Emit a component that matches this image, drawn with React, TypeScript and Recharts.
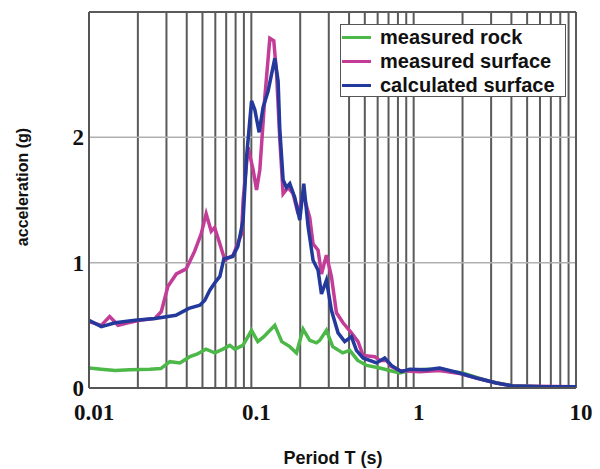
import React from "react";
import { LineChart, Line, XAxis, YAxis, CartesianGrid, ReferenceLine, Legend } from "recharts";

// response spectra, period T (s) vs acceleration (g)
const rockT = [0.01, 0.0119, 0.0145, 0.0179, 0.0237, 0.0277, 0.0315, 0.0363, 0.0418, 0.0462, 0.0525, 0.0596, 0.0668, 0.0737, 0.0791, 0.0887, 0.1003, 0.1096, 0.1194, 0.1395, 0.154, 0.1726, 0.1897, 0.2084, 0.229, 0.2518, 0.2639, 0.2902, 0.3173, 0.3657, 0.4038, 0.4522, 0.5138, 0.6177, 0.7117, 0.82, 0.945, 1.2, 1.5, 2, 2.5, 3, 4, 6, 10];
const rockG = [0.16, 0.15, 0.14, 0.145, 0.15, 0.155, 0.21, 0.2, 0.25, 0.27, 0.31, 0.28, 0.31, 0.34, 0.31, 0.34, 0.46, 0.37, 0.41, 0.5, 0.37, 0.33, 0.28, 0.47, 0.38, 0.36, 0.38, 0.46, 0.33, 0.28, 0.3, 0.22, 0.18, 0.16, 0.14, 0.12, 0.14, 0.15, 0.14, 0.12, 0.08, 0.05, 0.02, 0.01, 0.01];

const surfaceT = [0.01, 0.0119, 0.0134, 0.0151, 0.0174, 0.0206, 0.0255, 0.0279, 0.0306, 0.0345, 0.0397, 0.0447, 0.0491, 0.0527, 0.0566, 0.0594, 0.064, 0.0687, 0.0773, 0.087, 0.089, 0.0955, 0.1026, 0.1077, 0.1128, 0.1211, 0.13, 0.1375, 0.143, 0.1498, 0.157, 0.1685, 0.1808, 0.1941, 0.2084, 0.229, 0.24, 0.2577, 0.2704, 0.2902, 0.3115, 0.3344, 0.3672, 0.4136, 0.4542, 0.4875, 0.5754, 0.6177, 0.6792, 0.73, 0.82, 1.089, 1.445, 1.919, 2.432, 3.228, 4.066, 10];
const surfaceG = [0.53, 0.5, 0.57, 0.5, 0.52, 0.54, 0.555, 0.61, 0.81, 0.91, 0.95, 1.09, 1.23, 1.39, 1.25, 1.28, 1.15, 1.02, 1.06, 1.23, 1.5, 1.92, 1.74, 1.58, 1.74, 2.32, 2.79, 2.77, 2.51, 1.98, 1.55, 1.6, 1.55, 1.39, 1.55, 1.36, 1.15, 1.1, 0.91, 1.06, 0.89, 0.6, 0.52, 0.44, 0.37, 0.26, 0.25, 0.22, 0.22, 0.17, 0.14, 0.13, 0.14, 0.115, 0.08, 0.04, 0.016, 0.01];

const calcT = [0.01, 0.0119, 0.0145, 0.0192, 0.0255, 0.0343, 0.0412, 0.0482, 0.0517, 0.0555, 0.0596, 0.064, 0.0677, 0.0769, 0.0826, 0.089, 0.0934, 0.1003, 0.1051, 0.1117, 0.1182, 0.1269, 0.1395, 0.1462, 0.1498, 0.157, 0.1647, 0.1726, 0.1852, 0.1988, 0.2104, 0.2236, 0.24, 0.2577, 0.2704, 0.2902, 0.3115, 0.3421, 0.3762, 0.4136, 0.4441, 0.4875, 0.5896, 0.663, 0.7293, 0.8403, 0.945, 1.197, 1.445, 1.919, 2.432, 3.228, 4.066, 6.4, 10];
const calcG = [0.54, 0.49, 0.52, 0.54, 0.555, 0.58, 0.635, 0.66, 0.7, 0.78, 0.84, 0.89, 1.03, 1.05, 1.13, 1.34, 1.84, 2.29, 2.22, 2.04, 2.24, 2.37, 2.63, 2.45, 2.06, 1.66, 1.6, 1.63, 1.52, 1.34, 1.63, 1.29, 1.02, 0.94, 0.75, 0.86, 0.62, 0.44, 0.37, 0.41, 0.3, 0.24, 0.2, 0.24, 0.18, 0.13, 0.15, 0.145, 0.16, 0.12, 0.08, 0.04, 0.016, 0.01, 0.01];

const seriesNames = ["measured rock", "measured surface", "calculated surface"];

const gridPeriods = [
  0.01, 0.02, 0.03, 0.04, 0.05, 0.06, 0.07, 0.08, 0.09,
  0.1, 0.2, 0.3, 0.4, 0.5, 0.6, 0.7, 0.8, 0.9,
  1, 2, 3, 4, 5, 6, 7, 8, 9, 10,
];
const periodLabels = [0.01, 0.1, 1, 10];
const accelTicks = [0, 1, 2, 3];
const accelLabels = [0, 1, 2];

const toPoints = (ts: number[], gs: number[]) => ts.map((T, i) => ({ T, g: gs[i] }));
const rock = toPoints(rockT, rockG);
const surface = toPoints(surfaceT, surfaceG);
const calc = toPoints(calcT, calcG);

const tickStyle = { fontSize: 23, fontWeight: "bold", fontFamily: "'Liberation Serif', serif", fill: "#111" };

const LegendBox = (props: any) => {
  const items = [...(props.payload || [])].sort(
    (a: any, b: any) => seriesNames.indexOf(a.value) - seriesNames.indexOf(b.value)
  );
  return (
    <div style={{ border: "1.5px solid #555", background: "#fff", height: "100%", boxSizing: "border-box" }}>
      {items.map((it: any) => (
        <div key={it.value} style={{ display: "flex", alignItems: "center", height: 24 }}>
          <span style={{ display: "inline-block", width: 29, height: 3, background: it.color, marginLeft: 1, marginRight: 9 }} />
          <span style={{ fontFamily: "'Liberation Sans', Arial, sans-serif", fontWeight: "bold", fontSize: 20, color: "#111" }}>
            {it.value}
          </span>
        </div>
      ))}
    </div>
  );
};

export default function App() {
  return (
    <div style={{ position: "absolute", left: 0, top: 0, width: 600, height: 469, background: "#fff" }}>
      <LineChart width={600} height={469} margin={{ top: 12, right: 24, left: 49, bottom: 51 }}>
        <CartesianGrid horizontal={false} stroke="#5a5a5a" strokeWidth={2} />
        <CartesianGrid vertical={false} stroke="#b0b0b0" strokeWidth={1.5} />
        <XAxis
          dataKey="T"
          type="number"
          scale="log"
          domain={[0.01, 10]}
          allowDataOverflow
          ticks={gridPeriods}
          interval={0}
          tickFormatter={(v) => (periodLabels.includes(v) ? String(v) : "")}
          tickLine={false}
          tickMargin={10}
          height={30}
          axisLine={{ stroke: "#555", strokeWidth: 2 }}
          tick={{ ...tickStyle, dx: 5 }}
        />
        <YAxis
          type="number"
          domain={[0, 3]}
          ticks={accelTicks}
          interval={0}
          tickFormatter={(v) => (accelLabels.includes(v) ? String(v) : "")}
          tickLine={false}
          tickSize={4}
          tickMargin={1}
          width={40}
          axisLine={{ stroke: "#555", strokeWidth: 2 }}
          tick={tickStyle}
        />
        <ReferenceLine y={3} stroke="#5a5a5a" strokeWidth={2} />
        <ReferenceLine x={10} stroke="#5a5a5a" strokeWidth={2} />
        <Legend
          layout="horizontal"
          verticalAlign="middle"
          align="center"
          content={<LegendBox />}
          wrapperStyle={{ left: 340, top: 24, width: 226, height: 73 }}
        />
        <Line data={rock} dataKey="g" name={seriesNames[0]} type="linear" stroke="#4cb848" strokeWidth={3.5} dot={false} isAnimationActive={false} />
        <Line data={surface} dataKey="g" name={seriesNames[1]} type="linear" stroke="#c23c98" strokeWidth={3.5} dot={false} isAnimationActive={false} />
        <Line data={calc} dataKey="g" name={seriesNames[2]} type="linear" stroke="#23399b" strokeWidth={3.5} dot={false} isAnimationActive={false} />
        <text x={22} y={187} transform="rotate(-90 22 187)" textAnchor="middle" dominantBaseline="central" fontFamily="'Liberation Sans', Arial, sans-serif" fontWeight="bold" fontSize={16} fill="#111">
          acceleration (g)
        </text>
        <text x={333} y={464} textAnchor="middle" fontFamily="'Liberation Sans', Arial, sans-serif" fontWeight="bold" fontSize={18} fill="#111">
          Period T (s)
        </text>
      </LineChart>
    </div>
  );
}
